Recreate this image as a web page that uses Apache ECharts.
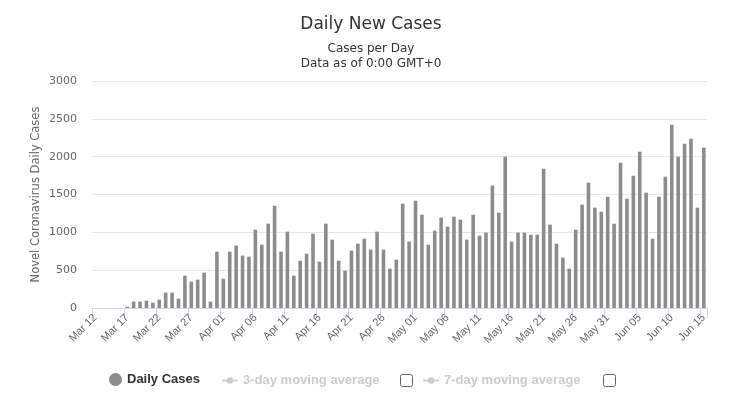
<!DOCTYPE html>
<html>
<head>
<meta charset="utf-8">
<script src="https://cdn.jsdelivr.net/npm/echarts@6/dist/echarts.min.js"></script>
<style>html,body{margin:0;padding:0;background:#fff}#c{width:739px;height:394px}</style>
</head>
<body>
<div id="c"></div>
<script>
var categories = [
'Mar 12','Mar 13','Mar 14','Mar 15','Mar 16','Mar 17','Mar 18','Mar 19','Mar 20','Mar 21',
'Mar 22','Mar 23','Mar 24','Mar 25','Mar 26','Mar 27','Mar 28','Mar 29','Mar 30','Mar 31',
'Apr 01','Apr 02','Apr 03','Apr 04','Apr 05','Apr 06','Apr 07','Apr 08','Apr 09','Apr 10',
'Apr 11','Apr 12','Apr 13','Apr 14','Apr 15','Apr 16','Apr 17','Apr 18','Apr 19','Apr 20',
'Apr 21','Apr 22','Apr 23','Apr 24','Apr 25','Apr 26','Apr 27','Apr 28','Apr 29','Apr 30',
'May 01','May 02','May 03','May 04','May 05','May 06','May 07','May 08','May 09','May 10',
'May 11','May 12','May 13','May 14','May 15','May 16','May 17','May 18','May 19','May 20',
'May 21','May 22','May 23','May 24','May 25','May 26','May 27','May 28','May 29','May 30',
'May 31','Jun 01','Jun 02','Jun 03','Jun 04','Jun 05','Jun 06','Jun 07','Jun 08','Jun 09',
'Jun 10','Jun 11','Jun 12','Jun 13','Jun 14','Jun 15'
];
var dailyCases = [
0,0,0,0,0,18,84,84,97,70,
110,203,203,123,427,348,374,467,84,744,
388,744,824,692,678,1035,837,1114,1352,744,
1009,427,625,718,982,612,1114,903,625,493,
758,850,916,771,1009,771,520,639,1379,877,
1418,1233,837,1022,1194,1075,1207,1167,903,1233,
956,996,1617,1260,2000,877,996,996,969,969,
1841,1101,850,665,520,1035,1366,1656,1326,1273,
1471,1114,1921,1445,1749,2066,1524,916,1471,1736,
2423,2000,2172,2238,1326,2119
];
var movingAvg3 = [];
var movingAvg7 = [];
var yTicks = [0,500,1000,1500,2000,2500,3000];

var chart = echarts.init(document.getElementById('c'));
var font = 'Liberation Sans, Arial, sans-serif';
var dv = 'DejaVu Sans, sans-serif';
chart.setOption({
  animation: false,
  textStyle: {fontFamily: font},
  title: {
    text: 'Daily New Cases',
    subtext: 'Cases per Day\nData as of 0:00 GMT+0',
    left: 366, textAlign: 'center', top: 11,
    itemGap: 8,
    textStyle: {fontSize: 17, fontWeight: 'normal', color: '#333', fontFamily: dv},
    subtextStyle: {fontSize: 12, color: '#333', lineHeight: 15, fontFamily: dv}
  },
  legend: [
    {data: [{name: 'Daily Cases', icon: 'circle'}], left: 109, top: 373, padding: 0,
     itemWidth: 13, itemHeight: 13,
     textStyle: {fontSize: 13, fontWeight: 'bold', color: '#333', fontFamily: font}},
    {data: ['3-day moving average'], left: 221, top: 374, padding: 0, itemWidth: 16, itemHeight: 8,
     inactiveColor: '#cccccc', selected: {'3-day moving average': false},
     textStyle: {fontSize: 13, fontWeight: 'bold', color: '#333', fontFamily: font}},
    {data: ['7-day moving average'], left: 422, top: 374, padding: 0, itemWidth: 16, itemHeight: 8,
     inactiveColor: '#cccccc', selected: {'7-day moving average': false},
     textStyle: {fontSize: 13, fontWeight: 'bold', color: '#333', fontFamily: font}}
  ],
  grid: {left: 92, right: 32, top: 81, bottom: 86},
  xAxis: {
    type: 'category',
    data: categories,
    axisLine: {lineStyle: {color: '#ccd6eb'}},
    axisTick: {show: true, interval: 4, length: 10, lineStyle: {color: '#ccd6eb'}},
    axisLabel: {interval: 4, rotate: 45, color: '#666', fontSize: 11, margin: 8}
  },
  yAxis: {
    type: 'value', min: yTicks[0], max: yTicks[yTicks.length - 1], interval: 500,
    name: 'Novel Coronavirus Daily Cases', nameLocation: 'middle', nameGap: 50,
    nameMoveOverlap: false,
    nameTextStyle: {color: '#666', fontSize: 11.5, fontFamily: dv},
    axisLabel: {color: '#666', fontSize: 11, margin: 15, fontFamily: dv,
      formatter: function (v) { return String(v); }},
    splitLine: {lineStyle: {color: '#e6e6e6'}}
  },
  series: [
    {name: 'Daily Cases', type: 'bar', data: dailyCases, barWidth: '56%',
     itemStyle: {color: '#8c8c8c'}},
    {name: '3-day moving average', type: 'line', data: movingAvg3, symbol: 'circle',
     itemStyle: {color: '#cccccc'}},
    {name: '7-day moving average', type: 'line', data: movingAvg7, symbol: 'circle',
     itemStyle: {color: '#cccccc'}}
  ],
  graphic: [
    {type: 'rect', left: 400, top: 374, shape: {width: 12, height: 12, r: 2},
     style: {fill: '#fff', stroke: '#666', lineWidth: 1}},
    {type: 'rect', left: 603, top: 374, shape: {width: 12, height: 12, r: 2},
     style: {fill: '#fff', stroke: '#666', lineWidth: 1}}
  ]
});
</script>
</body>
</html>
